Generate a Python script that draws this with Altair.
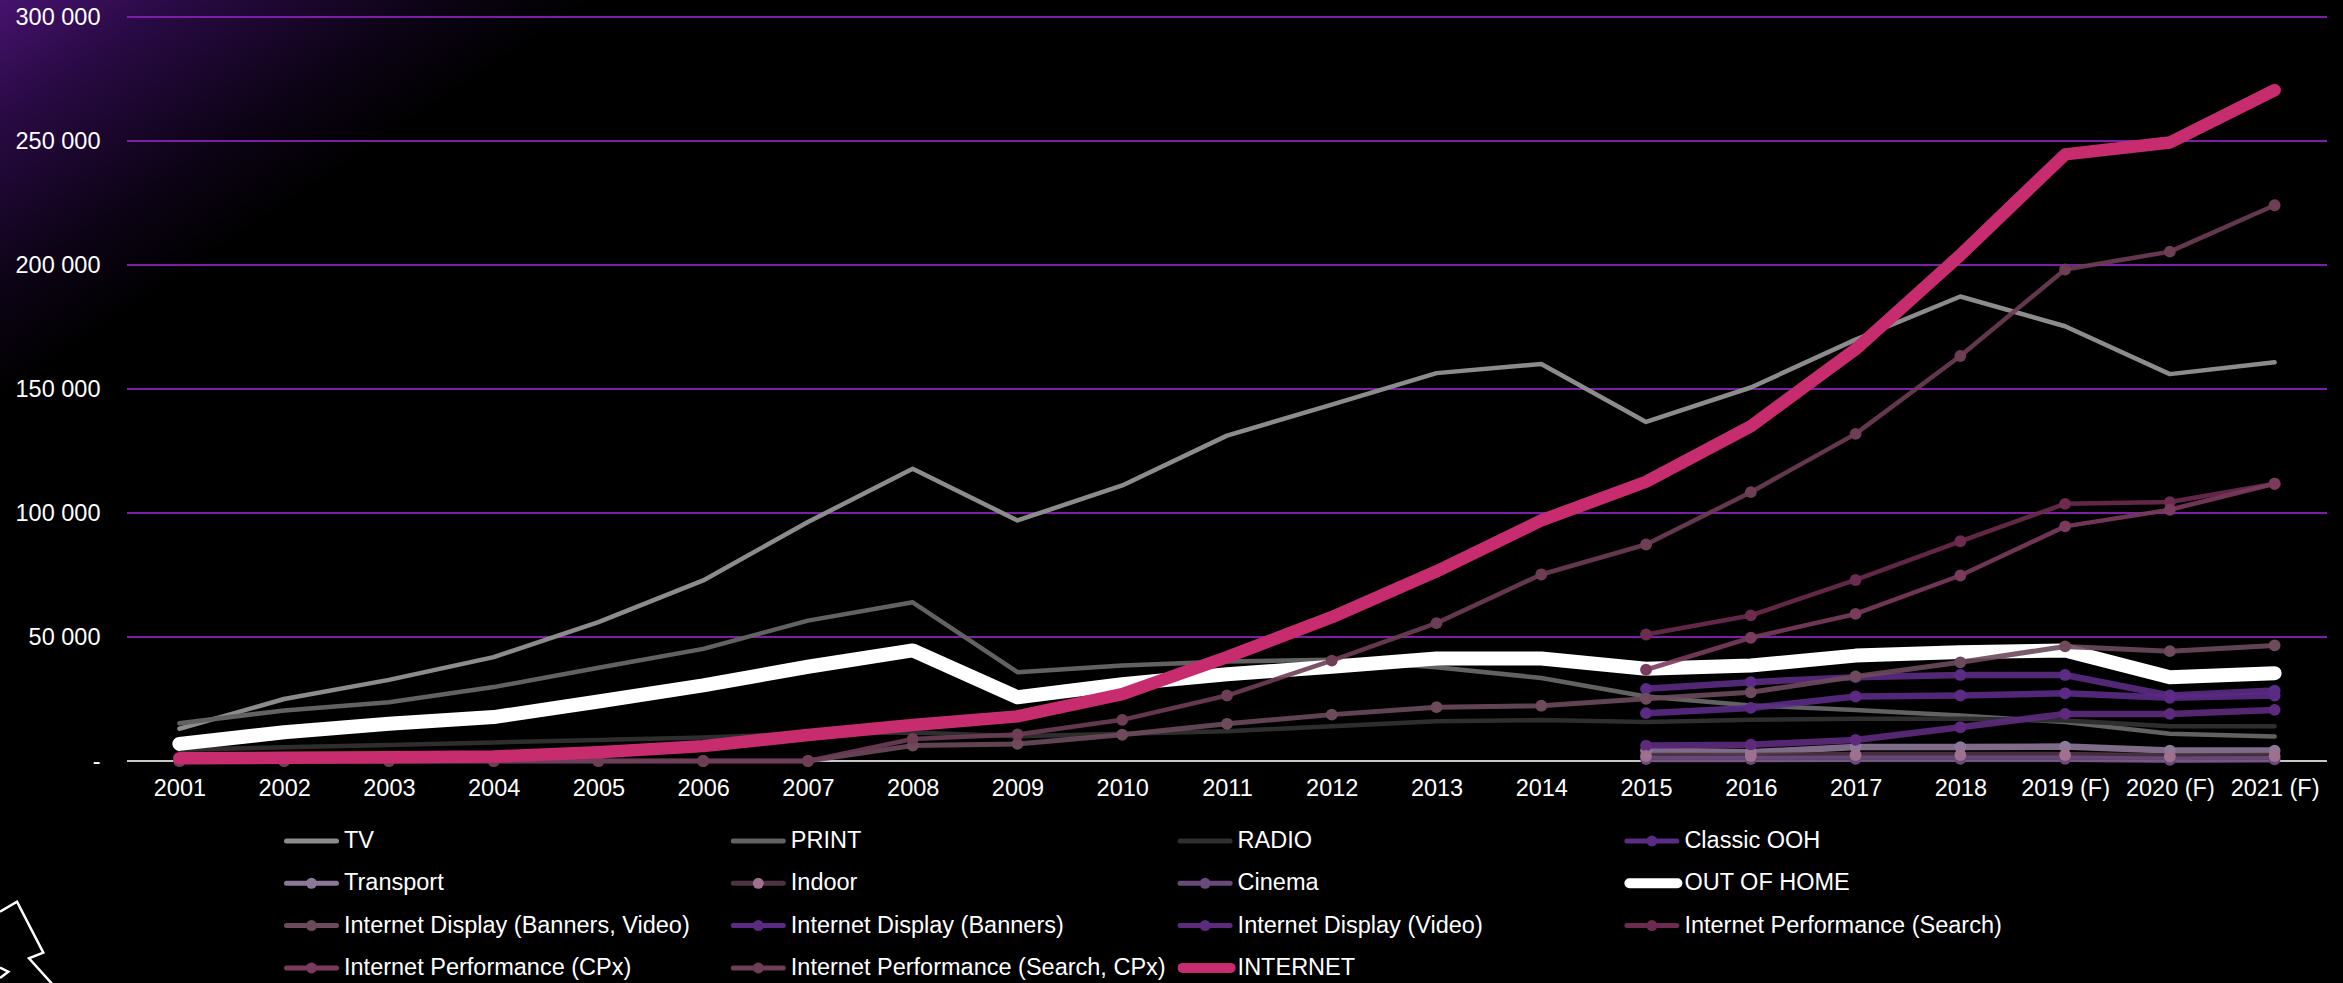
import altair as alt
import pandas as pd

# ---- data -------------------------------------------------------------
years = ["2001", "2002", "2003", "2004", "2005", "2006", "2007", "2008",
         "2009", "2010", "2011", "2012", "2013", "2014", "2015", "2016",
         "2017", "2018", "2019 (F)", "2020 (F)", "2021 (F)"]

tv = [13000, 25000, 32700, 41900, 56000, 72800, 96400, 117800, 97000, 111100,
      131200, 143700, 156400, 160100, 136700, 150600, 169900, 187300, 175300,
      156000, 160800]
print_ = [15200, 20400, 23700, 29800, 37600, 45200, 56600, 64000, 35800, 38500,
          40100, 40800, 37800, 33500, 26000, 22400, 20600, 18300, 15700, 11000,
          9900]
radio = [4500, 5500, 6500, 7500, 8500, 9500, 11000, 11500, 10000, 11000, 12000,
         14000, 16000, 16500, 15700, 16600, 17000, 17000, 16300, 14000, 14000]
out_of_home = [6900, 11600, 15000, 17700, 24000, 30500, 38000, 44600, 25700,
               31000, 35000, 38000, 41300, 41300, 37200, 38500, 42500, 43900,
               44600, 33800, 35400]
internet = [1100, 1300, 1500, 1800, 3500, 6000, 10500, 14500, 18000, 27000,
            41900, 58000, 76500, 97000, 112600, 135000, 166000, 204000, 244600,
            249400, 270500]
display_all = [0, 0, 0, 0, 0, 0, 0, 6200, 6900, 10600, 15000, 18700, 21700,
               22300, 25100, 27700, 34100, 39800, 46200, 44300, 46600]
performance_all = [0, 0, 0, 0, 0, 0, 0, 8900, 10700, 16600, 26400, 40500, 55600,
                   75200, 87300, 108400, 131900, 163300, 198200, 205400, 224100]

# series reported from 2015 onwards
classic_ooh = [29100, 31800, 33800, 34700, 34700, 26400, 28400]
transport = [4200, 3500, 5600, 5600, 5800, 4200, 4200]
indoor = [2000, 2000, 2400, 2400, 2400, 1800, 2000]
cinema = [800, 800, 900, 900, 900, 500, 700]
display_banners = [19300, 21400, 26000, 26400, 27300, 25500, 26400]
display_video = [6200, 6600, 8500, 13600, 19000, 19000, 20600]
performance_search = [51000, 58700, 73000, 88600, 103700, 104400, 111800]
performance_cpx = [36800, 49700, 59300, 74800, 94600, 101300, 111800]

series_names = ["TV", "PRINT", "RADIO", "Classic OOH",
                "Transport", "Indoor", "Cinema", "OUT OF HOME",
                "Internet Display (Banners, Video)", "Internet Display (Banners)",
                "Internet Display (Video)", "Internet Performance (Search)",
                "Internet Performance (CPx)", "Internet Performance (Search, CPx)",
                "INTERNET"]
series_values = [tv, print_, radio, classic_ooh,
                 transport, indoor, cinema, out_of_home,
                 display_all, display_banners, display_video, performance_search,
                 performance_cpx, performance_all, internet]

series_colors = ["#8c8c8c", "#626262", "#2e2e2e", "#5b2c83",
                 "#8c7898", "#4d3344", "#6a4a7b", "#ffffff",
                 "#6d4a5c", "#5b2a85", "#5e2a7e", "#6d2b4f",
                 "#7b3b5d", "#6e3d56", "#c72d6e"]

plain_series = ["TV", "PRINT", "RADIO", "OUT OF HOME", "INTERNET"]
thick_series = ["OUT OF HOME", "INTERNET"]
marker_series = [s for s in series_names if s not in plain_series]
indoor_marker = "#a0708f"

# drawing groups in series order: (members, line width, opacity)
line_groups = [
    (["TV", "PRINT", "RADIO"], 4.5, 1.0),
    (["Classic OOH", "Transport", "Indoor", "Cinema"], 6.5, 0.9),
    (["OUT OF HOME"], 14, 1.0),
    (["Internet Display (Banners, Video)"], 5, 0.9),
    (["Internet Display (Banners)", "Internet Display (Video)"], 6.5, 0.9),
    (["Internet Performance (Search)", "Internet Performance (CPx)",
      "Internet Performance (Search, CPx)"], 4.5, 0.9),
]

grid_values = [0, 50000, 100000, 150000, 200000, 250000, 300000]

rows = []
for name, vals in zip(series_names, series_values):
    start = len(years) - len(vals)
    for yr, v in zip(years[start:], vals):
        rows.append({"year": yr, "series": name, "value": v})
df = pd.DataFrame(rows)

# legend grid: four entries per row, in series order
LEGEND_COLS = 4
legend_df = pd.DataFrame({
    "series": series_names,
    "col": [i % LEGEND_COLS for i in range(len(series_names))],
    "row": [i // LEGEND_COLS for i in range(len(series_names))],
})

# ---- layout -----------------------------------------------------------
W, H = 2200, 744
PAD = {"left": 127, "top": 17, "right": 16, "bottom": 222}
FONT = "Liberation Sans"
FS = 23.5
MARKER = 140

x_enc = alt.X("year:O", sort=years, title=None,
              scale=alt.Scale(type="point", padding=0.5, domain=years),
              axis=alt.Axis(labelAngle=0, ticks=False, domain=False, grid=False,
                            labelColor="white", labelFontSize=FS, labelFont=FONT,
                            labelPadding=15, zindex=2))
y_enc = alt.Y("value:Q", title=None,
              scale=alt.Scale(domain=[0, 300000], nice=False),
              axis=alt.Axis(values=grid_values, ticks=False, domain=False,
                            grid=False, labelColor="white", labelFontSize=FS,
                            labelFont=FONT, labelPadding=27, zindex=2,
                            labelExpr="datum.value == 0 ? '-' : format(datum.value / 1000, 'd') + ' 000'"))
color_enc = alt.Color("series:N", sort=series_names, legend=None,
                      scale=alt.Scale(domain=series_names, range=series_colors))

# ---- background: purple glow in the top-left corner ----------------------
one_row = pd.DataFrame({"k": [0]})
background = alt.Chart(one_row).mark_rect(
    fill=alt.Gradient(
        gradient="linear", x1=0, y1=0, x2=0.372, y2=0.281,
        stops=[alt.GradientStop(color="#46126e", offset=0),
               alt.GradientStop(color="#290a44", offset=0.3),
               alt.GradientStop(color="#0d0316", offset=0.72),
               alt.GradientStop(color="#000000", offset=1)])
).encode(x=alt.value(-PAD["left"]), x2=alt.value(900),
         y=alt.value(-PAD["top"]), y2=alt.value(500))

# corner ornament (outlined bolt), path in page pixels
bolt_path = ("M0,911.7L17,901.7L43.3,952.7L29,958.3L51.3,983L60,995"
             "M0,967.5L8.3,971.7L0,978")
ornament = alt.Chart(one_row).mark_point(
    shape=bolt_path, size=4, filled=False, stroke="white", strokeWidth=2.5,
    opacity=1
).encode(x=alt.value(-PAD["left"]), y=alt.value(-PAD["top"]))

# horizontal gridlines and the zero baseline
grid = alt.Chart(pd.DataFrame({"value": grid_values})).mark_rule(strokeWidth=2).encode(
    y=y_enc,
    x=alt.value(0), x2=alt.value(W),
    color=alt.condition(alt.datum.value == 0, alt.value("#c8c8c8"), alt.value("#7a1fa6")),
)

base = alt.Chart(df)

line_layers = []
for members, width, op in line_groups:
    line_layers.append(
        base.transform_filter(
            alt.FieldOneOfPredicate(field="series", oneOf=members)
        ).mark_line(
            strokeCap="round", strokeJoin="round", strokeWidth=width, opacity=op
        ).encode(x=x_enc, y=y_enc, color=color_enc)
    )

points = base.transform_filter(
    alt.FieldOneOfPredicate(field="series", oneOf=[s for s in marker_series if s != "Indoor"])
).mark_point(filled=True, size=MARKER, opacity=1).encode(x=x_enc, y=y_enc, color=color_enc)

indoor_points = base.transform_filter(alt.datum.series == "Indoor").mark_point(
    filled=True, size=MARKER, opacity=1, color=indoor_marker
).encode(x=x_enc, y=y_enc)

internet_line = base.transform_filter(alt.datum.series == "INTERNET").mark_line(
    strokeCap="round", strokeJoin="round", strokeWidth=12.5, opacity=1
).encode(x=x_enc, y=y_enc, color=color_enc)

main = alt.layer(background, ornament, grid, *line_layers, points,
                 indoor_points, internet_line)

# ---- legend, drawn below the plot on its own column/row scales ----------
COL_STEP, ROW_STEP = 446.8, 42.3
LEG_X0, LEG_Y0 = 157, 824
lx = alt.X("col:Q", axis=None,
           scale=alt.Scale(domain=[0, LEGEND_COLS], nice=False, zero=False,
                           range=[LEG_X0, LEG_X0 + LEGEND_COLS * COL_STEP]))
lx2 = alt.X2("col")
ly = alt.Y("row:Q", axis=None,
           scale=alt.Scale(domain=[0, 4], nice=False, zero=False,
                           range=[LEG_Y0, LEG_Y0 + 4 * ROW_STEP]))
lbase = alt.Chart(legend_df)

leg_thin = lbase.transform_filter(
    alt.FieldOneOfPredicate(field="series", oneOf=[s for s in series_names if s not in thick_series])
).mark_rule(strokeWidth=5, strokeCap="round", xOffset=2.5, x2Offset=52.5, opacity=1).encode(
    x=lx, x2=lx2, y=ly, color=color_enc)
leg_thick = lbase.transform_filter(
    alt.FieldOneOfPredicate(field="series", oneOf=thick_series)
).mark_rule(strokeWidth=10, strokeCap="round", xOffset=5, x2Offset=53, opacity=1).encode(
    x=lx, x2=lx2, y=ly, color=color_enc)
leg_dots = lbase.transform_filter(
    alt.FieldOneOfPredicate(field="series", oneOf=[s for s in marker_series if s != "Indoor"])
).mark_point(filled=True, size=120, xOffset=27.5, opacity=1).encode(
    x=lx, y=ly, color=color_enc)
leg_indoor = lbase.transform_filter(alt.datum.series == "Indoor").mark_point(
    filled=True, size=120, xOffset=27.5, opacity=1, color=indoor_marker
).encode(x=lx, y=ly)
leg_text = lbase.mark_text(
    align="left", baseline="middle", xOffset=60, color="white",
    font=FONT, fontSize=FS
).encode(x=lx, y=ly, text="series:N")

legend_block = alt.layer(leg_thin, leg_thick, leg_dots, leg_indoor, leg_text)

chart = alt.layer(main, legend_block).resolve_scale(
    x="independent", y="independent"
).properties(
    width=W, height=H, padding=PAD,
    autosize=alt.AutoSizeParams(type="none"),
    background="black",
).configure(font=FONT).configure_view(strokeWidth=0)

chart.save("out.html", embed_options={"renderer": "svg", "actions": False})
